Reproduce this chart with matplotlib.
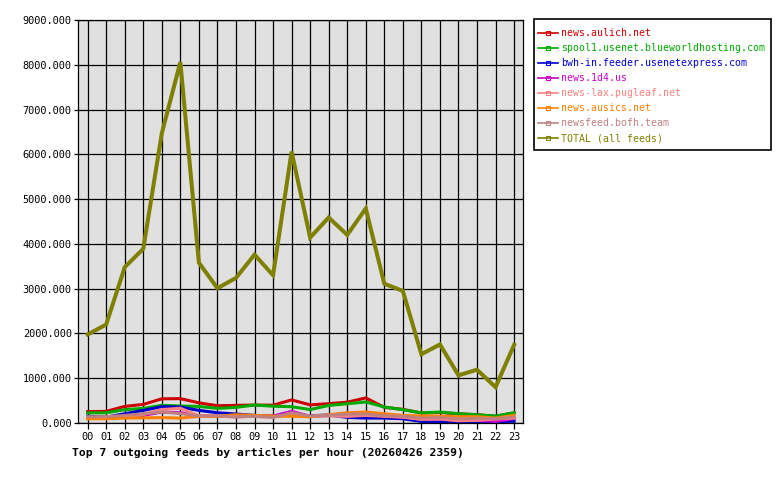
import matplotlib
matplotlib.use("Agg")
import matplotlib.pyplot as plt
from matplotlib.lines import Line2D
from matplotlib.patches import Rectangle
from matplotlib.ticker import FuncFormatter

hours = ["00", "01", "02", "03", "04", "05", "06", "07", "08", "09", "10", "11",
         "12", "13", "14", "15", "16", "17", "18", "19", "20", "21", "22", "23"]

aulich = [255, 260, 370, 415, 540, 545, 450, 386, 394, 401, 398, 515, 405, 432, 465, 560,
          350, 305, 222, 235, 205, 185, 150, 225]
spool1 = [225, 228, 297, 326, 395, 380, 370, 326, 349, 401, 375, 364, 300, 392, 430, 470,
          357, 297, 225, 245, 207, 185, 155, 229]
bwh = [150, 130, 207, 282, 365, 356, 282, 229, 200, 170, 150, 180, 160, 180, 125, 110,
       110, 95, 35, 20, 20, 30, 20, 40]
n1d4 = [110, 120, 133, 170, 245, 230, 160, 150, 140, 150, 155, 260, 150, 165, 190, 200,
        150, 130, 90, 90, 60, 60, 35, 100]
pugleaf = [120, 110, 140, 190, 300, 330, 160, 150, 140, 150, 130, 200, 150, 160, 148, 170,
           150, 130, 80, 90, 50, 60, 90, 110]
ausics = [95, 95, 110, 115, 120, 110, 150, 150, 185, 170, 155, 150, 140, 185, 229, 245,
          207, 170, 155, 150, 140, 140, 110, 170]
bofh = [140, 140, 170, 205, 245, 210, 160, 160, 140, 148, 125, 229, 155, 170, 200, 200,
        160, 150, 110, 120, 95, 105, 95, 130]
total = [1975, 2200, 3480, 3890, 6470, 8060, 3580, 3010, 3240, 3760, 3300, 6060, 4140, 4590,
         4200, 4790, 3110, 2950, 1535, 1755, 1065, 1190, 800, 1745]

labels = ["news.aulich.net", "spool1.usenet.blueworldhosting.com",
          "bwh-in.feeder.usenetexpress.com", "news.1d4.us", "news-lax.pugleaf.net",
          "news.ausics.net", "newsfeed.bofh.team", "TOTAL (all feeds)"]
series = [aulich, spool1, bwh, n1d4, pugleaf, ausics, bofh, total]
colors = ["#cc0000", "#00aa00", "#0000cc", "#cc00cc", "#ff8080", "#ff8000", "#c08080", "#808000"]
title = "Top 7 outgoing feeds by articles per hour (20260426 2359)"

mono = "DejaVu Sans Mono"
W, H = 780, 480

fig = plt.figure(figsize=(7.8, 4.8), dpi=100)
ax = fig.add_axes([78 / W, 1 - 423 / H, (523 - 78) / W, (423 - 20) / H])
ax.set_facecolor("#e0e0e0")

x = list(range(len(hours)))
for s, c, lab in zip(series, colors, labels):
    lw = 2.9 if lab.startswith("TOTAL") else 2.2
    ax.plot(x, s, color=c, linewidth=lw, solid_joinstyle="miter", zorder=3)

ax.set_xlim(-0.52, 23.48)
ax.set_ylim(0, 9000)
ax.set_xticks(x)
ax.set_xticklabels(hours, fontfamily=mono, fontsize=7.4)
ax.set_yticks(range(0, 9001, 1000))
ax.yaxis.set_major_formatter(FuncFormatter(lambda v, p: f"{v:.3f}"))
for t in ax.get_yticklabels():
    t.set_fontfamily(mono)
    t.set_fontsize(7.4)
ax.tick_params(axis="y", length=3, width=0.9, pad=1.5, colors="black")
ax.tick_params(axis="x", length=4, width=0.9, pad=2.5, colors="black")
ax.grid(True, color="black", linewidth=0.9, zorder=1)
ax.set_axisbelow(True)
for sp in ax.spines.values():
    sp.set_color("black")
    sp.set_linewidth(0.9)

fig.text(72 / W, 1 - 452.5 / H, title, fontfamily=mono, fontweight="bold",
         fontsize=8.2, va="center", ha="left")

# legend frame
fig.patches.append(Rectangle((534 / W, 1 - 150 / H), (771 - 534) / W, (150 - 19) / H,
                             transform=fig.transFigure, facecolor="white",
                             edgecolor="black", linewidth=1.2, zorder=0))

handles = [Line2D([0], [0], color=c, linewidth=1.2, marker="s", markersize=2.5,
                  markerfacecolor="none", markeredgewidth=0.8) for c in colors]
leg = fig.legend(handles, labels, loc="upper left",
                 bbox_to_anchor=(538 / W, 1 - 28.5 / H),
                 prop={"family": mono, "size": 7.15}, labelcolor=colors,
                 frameon=False, handlelength=2.05, handletextpad=0.3,
                 labelspacing=0.5, borderaxespad=0, borderpad=0)

fig.savefig("out.png", dpi=100)
